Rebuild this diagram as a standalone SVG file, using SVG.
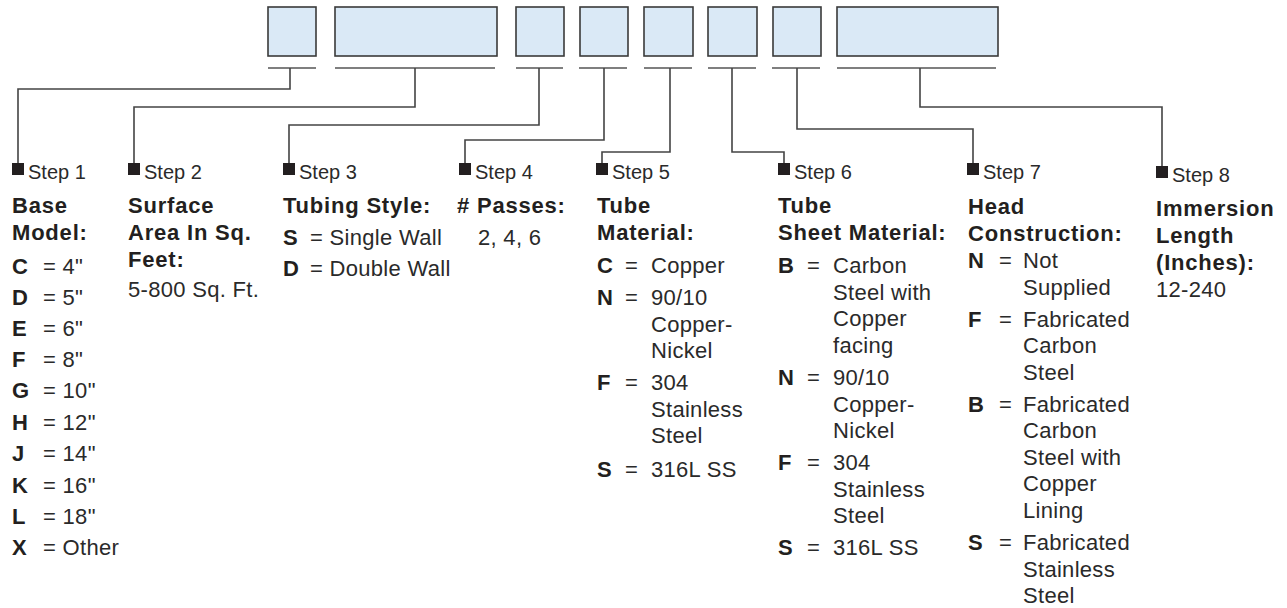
<svg xmlns="http://www.w3.org/2000/svg" width="1287" height="608" viewBox="0 0 1287 608">
<style>
.box{fill:#dae9f6;stroke:#3a3a3a;stroke-width:1.6}
.ul{stroke:#555;stroke-width:1.6;fill:none}
.con{stroke:#444;stroke-width:1.6;fill:none}
.sq{fill:#231f20}
text{font-family:"Liberation Sans",Arial,Helvetica,sans-serif;fill:#231f20}
.st{font-size:20px;fill:#2a2a2a}
.h{font-size:22px;font-weight:bold;letter-spacing:0.8px}
.k{font-size:22px;font-weight:bold}
.v{font-size:22px;letter-spacing:0.3px;fill:#2a2a2a}
</style>
<rect width="1287" height="608" fill="#fff"/>
<g id="code-boxes">
<rect class="box" x="268" y="7" width="48" height="49"/>
<rect class="box" x="335" y="7" width="162" height="49"/>
<rect class="box" x="516" y="7" width="48" height="49"/>
<rect class="box" x="580" y="7" width="48" height="49"/>
<rect class="box" x="644" y="7" width="49" height="49"/>
<rect class="box" x="708" y="7" width="49" height="49"/>
<rect class="box" x="773" y="7" width="48" height="49"/>
<rect class="box" x="837" y="7" width="161" height="49"/>
<path class="ul" d="M268 68H316M335 68H495M516 68H563M579 68H627M644 68H692M708 68H756M772 68H820M837 68H996"/>
</g>
<g id="connectors">
<path class="con" d="M290 68V89H18V163"/>
<path class="con" d="M415 68V107H134V163"/>
<path class="con" d="M539 68V125H289V163"/>
<path class="con" d="M604 68V140H465V163"/>
<path class="con" d="M670 68V152H602V163"/>
<path class="con" d="M732 68V152H784V163"/>
<path class="con" d="M797 68V129H973V163"/>
<path class="con" d="M920 68V107H1162V166"/>
</g>
<g id="step1">
<rect class="sq" x="12" y="163" width="12" height="12"/>
<text class="st" x="28" y="179">Step 1</text>
<text class="h" x="12" y="213">Base</text>
<text class="h" x="12" y="240">Model:</text>
<text class="k" x="12" y="274">C</text><text class="v" x="43" y="274">= 4&quot;</text>
<text class="k" x="12" y="305">D</text><text class="v" x="43" y="305">= 5&quot;</text>
<text class="k" x="12" y="336">E</text><text class="v" x="43" y="336">= 6&quot;</text>
<text class="k" x="12" y="367">F</text><text class="v" x="43" y="367">= 8&quot;</text>
<text class="k" x="12" y="398">G</text><text class="v" x="43" y="398">= 10&quot;</text>
<text class="k" x="12" y="430">H</text><text class="v" x="43" y="430">= 12&quot;</text>
<text class="k" x="12" y="461">J</text><text class="v" x="43" y="461">= 14&quot;</text>
<text class="k" x="12" y="493">K</text><text class="v" x="43" y="493">= 16&quot;</text>
<text class="k" x="12" y="524">L</text><text class="v" x="43" y="524">= 18&quot;</text>
<text class="k" x="12" y="555">X</text><text class="v" x="43" y="555">= Other</text>
</g>
<g id="step2">
<rect class="sq" x="128" y="163" width="12" height="12"/>
<text class="st" x="144" y="179">Step 2</text>
<text class="h" x="128" y="213">Surface</text>
<text class="h" x="128" y="240">Area In Sq.</text>
<text class="h" x="128" y="267">Feet:</text>
<text class="v" x="128" y="297">5-800 Sq. Ft.</text>
</g>
<g id="step3">
<rect class="sq" x="283" y="163" width="12" height="12"/>
<text class="st" x="299" y="179">Step 3</text>
<text class="h" x="283" y="213">Tubing Style:</text>
<text class="k" x="283" y="245">S</text><text class="v" x="310" y="245">= Single Wall</text>
<text class="k" x="283" y="276">D</text><text class="v" x="310" y="276">= Double Wall</text>
</g>
<g id="step4">
<rect class="sq" x="459" y="163" width="12" height="12"/>
<text class="st" x="475" y="179">Step 4</text>
<text class="h" x="457" y="213"># Passes:</text>
<text class="v" x="478" y="245">2, 4, 6</text>
</g>
<g id="step5">
<rect class="sq" x="596" y="163" width="12" height="12"/>
<text class="st" x="612" y="179">Step 5</text>
<text class="h" x="597" y="213">Tube</text>
<text class="h" x="597" y="240">Material:</text>
<text class="k" x="597" y="273">C</text><text class="v" x="625" y="273">=</text><text class="v" x="651" y="273">Copper</text>
<text class="k" x="597" y="305">N</text><text class="v" x="625" y="305">=</text><text class="v" x="651" y="305">90/10</text>
<text class="v" x="651" y="331.5">Copper-</text>
<text class="v" x="651" y="358">Nickel</text>
<text class="k" x="597" y="390">F</text><text class="v" x="625" y="390">=</text><text class="v" x="651" y="390">304</text>
<text class="v" x="651" y="416.5">Stainless</text>
<text class="v" x="651" y="443">Steel</text>
<text class="k" x="597" y="477">S</text><text class="v" x="625" y="477">=</text><text class="v" x="651" y="477">316L SS</text>
</g>
<g id="step6">
<rect class="sq" x="778" y="163" width="12" height="12"/>
<text class="st" x="794" y="179">Step 6</text>
<text class="h" x="778" y="213">Tube</text>
<text class="h" x="778" y="240">Sheet Material:</text>
<text class="k" x="778" y="273">B</text><text class="v" x="807" y="273">=</text><text class="v" x="833" y="273">Carbon</text>
<text class="v" x="833" y="299.5">Steel with</text>
<text class="v" x="833" y="326">Copper</text>
<text class="v" x="833" y="352.5">facing</text>
<text class="k" x="778" y="385">N</text><text class="v" x="807" y="385">=</text><text class="v" x="833" y="385">90/10</text>
<text class="v" x="833" y="411.5">Copper-</text>
<text class="v" x="833" y="438">Nickel</text>
<text class="k" x="778" y="470">F</text><text class="v" x="807" y="470">=</text><text class="v" x="833" y="470">304</text>
<text class="v" x="833" y="496.5">Stainless</text>
<text class="v" x="833" y="523">Steel</text>
<text class="k" x="778" y="555">S</text><text class="v" x="807" y="555">=</text><text class="v" x="833" y="555">316L SS</text>
</g>
<g id="step7">
<rect class="sq" x="967" y="163" width="12" height="12"/>
<text class="st" x="983" y="179">Step 7</text>
<text class="h" x="968" y="214">Head</text>
<text class="h" x="968" y="241">Construction:</text>
<text class="k" x="968" y="268">N</text><text class="v" x="999" y="268">=</text><text class="v" x="1023" y="268">Not</text>
<text class="v" x="1023" y="295">Supplied</text>
<text class="k" x="968" y="327">F</text><text class="v" x="999" y="327">=</text><text class="v" x="1023" y="327">Fabricated</text>
<text class="v" x="1023" y="353">Carbon</text>
<text class="v" x="1023" y="380">Steel</text>
<text class="k" x="968" y="412">B</text><text class="v" x="999" y="412">=</text><text class="v" x="1023" y="412">Fabricated</text>
<text class="v" x="1023" y="438">Carbon</text>
<text class="v" x="1023" y="465">Steel with</text>
<text class="v" x="1023" y="491">Copper</text>
<text class="v" x="1023" y="518">Lining</text>
<text class="k" x="968" y="550">S</text><text class="v" x="999" y="550">=</text><text class="v" x="1023" y="550">Fabricated</text>
<text class="v" x="1023" y="577">Stainless</text>
<text class="v" x="1023" y="603">Steel</text>
</g>
<g id="step8">
<rect class="sq" x="1156" y="166" width="12" height="12"/>
<text class="st" x="1172" y="182">Step 8</text>
<text class="h" x="1156" y="216">Immersion</text>
<text class="h" x="1156" y="243">Length</text>
<text class="h" x="1156" y="270">(Inches):</text>
<text class="v" x="1156" y="297">12-240</text>
</g>
</svg>
